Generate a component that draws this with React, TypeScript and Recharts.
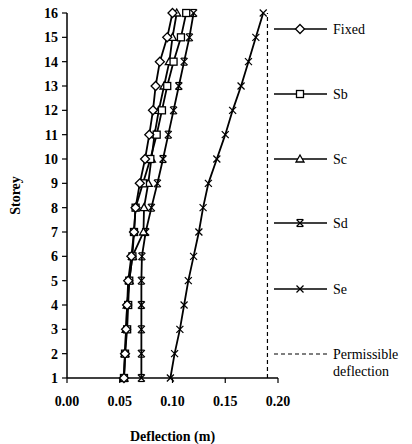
import React from 'react';
import { ScatterChart, Scatter, XAxis, YAxis } from 'recharts';

const storeys = [1, 2, 3, 4, 5, 6, 7, 8, 9, 10, 11, 12, 13, 14, 15, 16];
const fixed = [0.054, 0.055, 0.056, 0.057, 0.058, 0.061, 0.0635, 0.065, 0.069, 0.074, 0.078, 0.0815, 0.084, 0.088, 0.095, 0.100];
const sb = [0.054, 0.055, 0.057, 0.058, 0.059, 0.062, 0.0635, 0.065, 0.072, 0.079, 0.085, 0.090, 0.095, 0.101, 0.108, 0.113];
const sc = [0.054, 0.055, 0.056, 0.057, 0.059, 0.062, 0.0725, 0.073, 0.077, 0.080, 0.083, 0.087, 0.092, 0.097, 0.100, 0.104];
const sd = [0.0705, 0.0705, 0.0705, 0.0705, 0.0705, 0.071, 0.0746, 0.080, 0.0857, 0.091, 0.096, 0.101, 0.106, 0.111, 0.116, 0.120];
const se = [0.098, 0.102, 0.107, 0.111, 0.115, 0.120, 0.125, 0.129, 0.134, 0.142, 0.150, 0.157, 0.165, 0.172, 0.179, 0.186];
const permissible = [0.19, 0.19, 0.19, 0.19, 0.19, 0.19, 0.19, 0.19, 0.19, 0.19, 0.19, 0.19, 0.19, 0.19, 0.19, 0.19];

const xTicks = [0, 0.05, 0.1, 0.15, 0.2];
const seriesNames = ['Fixed', 'Sb', 'Sc', 'Sd', 'Se', 'Permissible deflection'];

const SERIF = "'Liberation Serif', 'DejaVu Serif', serif";

const toPts = (vals: number[]) => storeys.map((s, i) => ({ x: vals[i], y: s }));

type MK = 'diamond' | 'square' | 'triangle' | 'star' | 'x' | 'none';

const Marker = ({ cx, cy, kind }: { cx: number; cy: number; kind: MK }) => {
  const sw = 1.3;
  if (kind === 'diamond')
    return <polygon points={`${cx},${cy - 4.5} ${cx + 4.5},${cy} ${cx},${cy + 4.5} ${cx - 4.5},${cy}`} fill="#fff" stroke="#000" strokeWidth={sw} />;
  if (kind === 'square')
    return <rect x={cx - 3.5} y={cy - 3.5} width={7} height={7} fill="#fff" stroke="#000" strokeWidth={sw} />;
  if (kind === 'triangle')
    return <polygon points={`${cx},${cy - 4} ${cx + 4},${cy + 3} ${cx - 4},${cy + 3}`} fill="#fff" stroke="#000" strokeWidth={sw} />;
  if (kind === 'star')
    return (
      <g stroke="#000" strokeWidth={1.2}>
        <line x1={cx - 3.5} y1={cy - 3.5} x2={cx + 3.5} y2={cy + 3.5} />
        <line x1={cx - 3.5} y1={cy + 3.5} x2={cx + 3.5} y2={cy - 3.5} />
        <line x1={cx - 3} y1={cy - 3.5} x2={cx + 3} y2={cy - 3.5} />
        <line x1={cx - 3} y1={cy + 3.5} x2={cx + 3} y2={cy + 3.5} />
      </g>
    );
  if (kind === 'x')
    return (
      <g stroke="#000" strokeWidth={1.2}>
        <line x1={cx - 3.5} y1={cy - 3.5} x2={cx + 3.5} y2={cy + 3.5} />
        <line x1={cx - 3.5} y1={cy + 3.5} x2={cx + 3.5} y2={cy - 3.5} />
      </g>
    );
  return <g />;
};

const shapeFor = (kind: MK) => (props: any) => <Marker cx={props.cx} cy={props.cy} kind={kind} />;

const legendKinds: MK[] = ['diamond', 'square', 'triangle', 'star', 'x', 'none'];
const legendY = [29, 94, 159, 223, 289, 354];

const LegendBox = () => (
  <svg width={142} height={400} style={{ display: 'block' }}>
    {seriesNames.map((name, i) => {
      const y = legendY[i];
      const isPerm = i === 5;
      return (
        <g key={name}>
          <line x1={4} y1={y} x2={57} y2={y} stroke="#000" strokeWidth={isPerm ? 1.2 : 1.5} strokeDasharray={isPerm ? '4 3' : undefined} />
          {!isPerm && <Marker cx={30} cy={y} kind={legendKinds[i]} />}
          {isPerm ? (
            <text x={63} y={y} style={{ fontFamily: SERIF, fontSize: 14 }} fill="#000">
              <tspan x={63} dy="0.35em">Permissible</tspan>
              <tspan x={63} dy="1.25em">deflection</tspan>
            </text>
          ) : (
            <text x={63} y={y} dy="0.35em" style={{ fontFamily: SERIF, fontSize: 14 }} fill="#000">{name}</text>
          )}
        </g>
      );
    })}
  </svg>
);

const tickStyle = { fontFamily: SERIF, fontSize: 14, fontWeight: 700, fill: '#000' };

export default function App() {
  const lineStyle = { stroke: '#000', strokeWidth: 1.8, fill: 'none' };
  return (
    <div style={{ position: 'absolute', left: 0, top: 0, width: 412, height: 444, background: '#fff' }}>
      <ScatterChart width={412} height={444} margin={{ top: 13, right: 134, bottom: 0, left: 0 }}>
        <XAxis
          type="number"
          dataKey="x"
          domain={[0, 0.2]}
          ticks={xTicks}
          tickFormatter={(v: number) => v.toFixed(2)}
          height={66}
          tick={tickStyle}
          tickSize={5}
          tickMargin={13}
          axisLine={{ stroke: '#000', strokeWidth: 1.5 }}
          tickLine={{ stroke: '#000', strokeWidth: 1.2 }}
          label={{
            content: (p: any) => (
              <text x={p.viewBox.x + p.viewBox.width / 2} y={436} dy="0.35em" textAnchor="middle" style={{ fontFamily: SERIF, fontWeight: 700, fontSize: 14 }} fill="#000">
                Deflection (m)
              </text>
            ),
          }}
        />
        <YAxis
          type="number"
          dataKey="y"
          domain={[1, 16]}
          ticks={storeys}
          interval={0}
          width={67}
          tick={tickStyle}
          tickSize={5}
          tickMargin={4}
          axisLine={{ stroke: '#000', strokeWidth: 1.5 }}
          tickLine={{ stroke: '#000', strokeWidth: 1.2 }}
          label={{
            content: (p: any) => {
              const cy = p.viewBox.y + p.viewBox.height / 2;
              return (
                <text x={15} y={cy} dy="0.35em" textAnchor="middle" transform={`rotate(-90, 15, ${cy})`} style={{ fontFamily: SERIF, fontWeight: 700, fontSize: 14 }} fill="#000">
                  Storey
                </text>
              );
            },
          }}
        />
        <Scatter name="Permissible deflection" data={toPts(permissible)} line={{ stroke: '#000', strokeWidth: 1.2, strokeDasharray: '4 3', fill: 'none' }} shape={shapeFor('none')} isAnimationActive={false} />
        <Scatter name="Se" data={toPts(se)} line={lineStyle} shape={shapeFor('x')} isAnimationActive={false} />
        <Scatter name="Sd" data={toPts(sd)} line={lineStyle} shape={shapeFor('star')} isAnimationActive={false} />
        <Scatter name="Sc" data={toPts(sc)} line={lineStyle} shape={shapeFor('triangle')} isAnimationActive={false} />
        <Scatter name="Sb" data={toPts(sb)} line={lineStyle} shape={shapeFor('square')} isAnimationActive={false} />
        <Scatter name="Fixed" data={toPts(fixed)} line={lineStyle} shape={shapeFor('diamond')} isAnimationActive={false} />
      </ScatterChart>
      <div style={{ position: 'absolute', left: 270, top: 0 }}>
        <LegendBox />
      </div>
    </div>
  );
}
